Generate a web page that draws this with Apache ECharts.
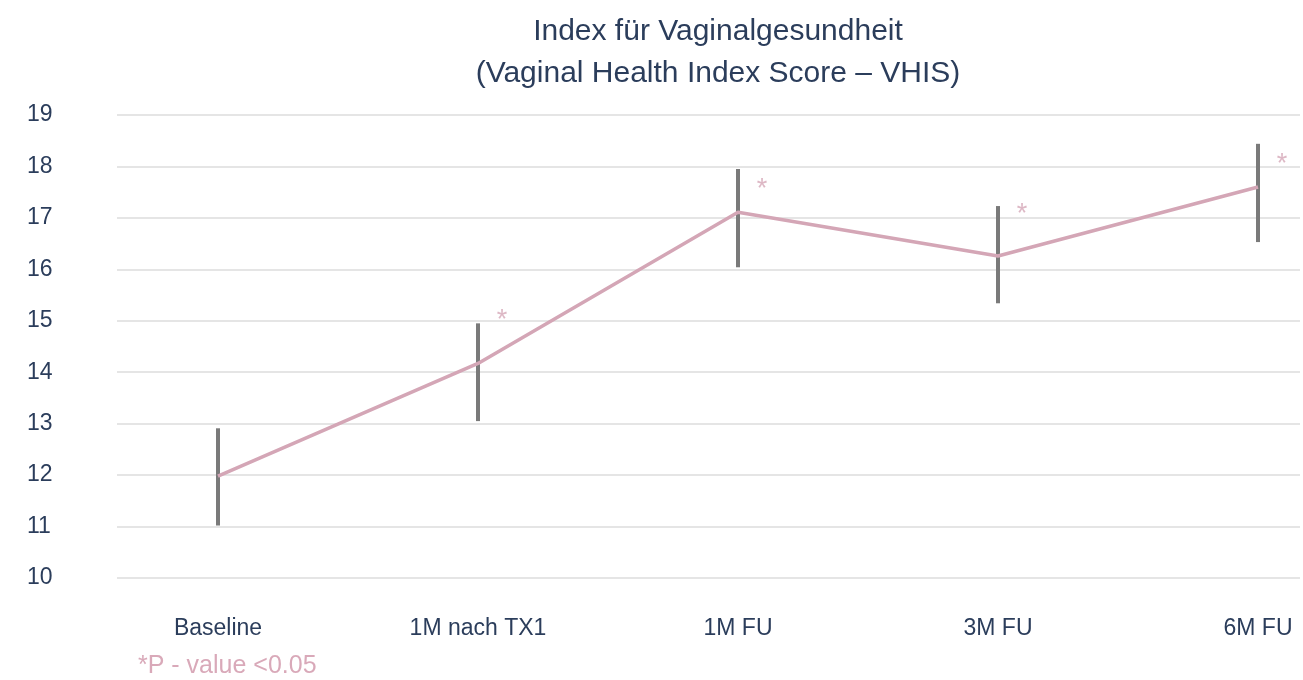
<!DOCTYPE html>
<html>
<head>
<meta charset="utf-8">
<script src="https://cdn.jsdelivr.net/npm/echarts@6/dist/echarts.min.js"></script>
<style>
  html, body { margin: 0; padding: 0; background: #fff; }
  #chart { width: 1303px; height: 680px; }
</style>
</head>
<body>
<div id="chart"></div>
<script>
// Daten
var categories = ['Baseline', '1M nach TX1', '1M FU', '3M FU', '6M FU'];
var vhisMean = [11.98, 14.17, 17.11, 16.26, 17.6];
var errLow = [11.02, 13.05, 16.04, 15.34, 16.53];
var errHigh = [12.91, 14.95, 17.95, 17.23, 18.44];
// Signifikanz-Sternchen (null = keins)
var sigY = [null, 15.11, 17.64, 17.17, 18.14];

var navy = '#2b3d5b';
var pink = '#d4a6b6';
var font = 'Liberation Sans';

var chart = echarts.init(document.getElementById('chart'));

var errData = categories.map(function (c, i) { return [i, errLow[i], errHigh[i]]; });
var sigData = [];
sigY.forEach(function (v, i) { if (v != null) sigData.push([i, v]); });

var option = {
    animation: false,
    textStyle: { fontFamily: font },
    title: {
        text: 'Index für Vaginalgesundheit\n(Vaginal Health Index Score – VHIS)',
        left: 718,
        top: 6,
        textAlign: 'center',
        textStyle: { color: navy, fontSize: 30, fontWeight: 'normal', fontFamily: font, lineHeight: 42 }
    },
    grid: [
        { left: 117, right: 3, top: 115, bottom: 102 },
        { left: 218, right: 45, top: 115, bottom: 102 }
    ],
    xAxis: [
        { type: 'value', gridIndex: 0, show: false, min: 0, max: 1 },
        {
            type: 'category', gridIndex: 1, data: categories, boundaryGap: false,
            axisLine: { show: false }, axisTick: { show: false },
            axisLabel: { color: navy, fontSize: 23, fontFamily: font, margin: 39 }
        }
    ],
    yAxis: [
        {
            type: 'value', gridIndex: 0, min: 10, max: 19, interval: 1,
            axisLine: { show: false }, axisTick: { show: false },
            axisLabel: { color: navy, fontSize: 23, fontFamily: font, margin: 62, align: 'left', padding: [0, 0, 0, -28] },
            splitLine: { lineStyle: { color: '#dcdcdc', width: 1.5 } }
        },
        { type: 'value', gridIndex: 1, min: 10, max: 19, interval: 1, show: false, splitLine: { show: false } }
    ],
    series: [
        {
            type: 'custom',
            xAxisIndex: 1, yAxisIndex: 1,
            data: errData,
            z: 2,
            renderItem: function (params, api) {
                var top = api.coord([api.value(0), api.value(2)]);
                var bot = api.coord([api.value(0), api.value(1)]);
                return {
                    type: 'line',
                    shape: { x1: top[0], y1: top[1], x2: bot[0], y2: bot[1] },
                    style: { stroke: '#7a7a7a', lineWidth: 4 }
                };
            }
        },
        {
            type: 'line',
            xAxisIndex: 1, yAxisIndex: 1,
            data: vhisMean,
            symbol: 'none',
            z: 3,
            lineStyle: { color: pink, width: 3.5 }
        },
        {
            type: 'scatter',
            xAxisIndex: 1, yAxisIndex: 1,
            data: sigData,
            symbolSize: 0,
            label: {
                show: true, position: 'inside', offset: [24, 5],
                formatter: '*', color: pink, fontSize: 27, fontFamily: font
            }
        }
    ],
    graphic: [
        {
            type: 'text', left: 138, top: 654,
            style: { text: '*P - value <0.05', fill: '#d9a9b9', font: '25px "Liberation Sans"' }
        }
    ]
};

// Titel leicht nach links
option.title.left = 713;

chart.setOption(option);
</script>
</body>
</html>
